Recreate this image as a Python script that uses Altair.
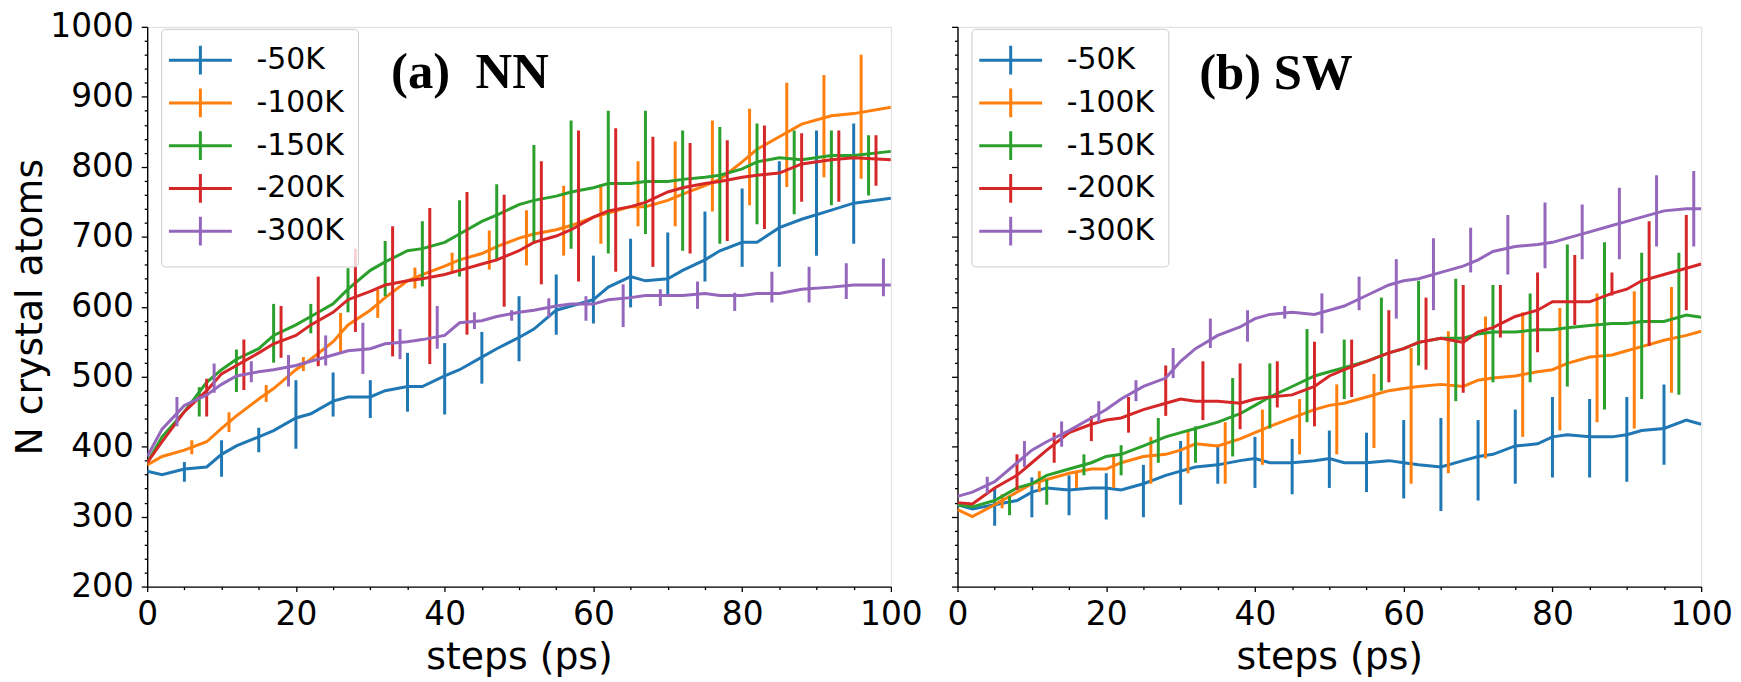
import altair as alt
import pandas as pd

SERIES = ["-50K", "-100K", "-150K", "-200K", "-300K"]
COLORS = ["#1f77b4", "#ff7f0e", "#2ca02c", "#d62728", "#9467bd"]

# ---------------- panel (a) NN : mean curves ----------------
T_A = [0, 2, 5, 8, 10, 12, 15, 17, 20, 22, 25, 27, 30, 32, 35, 37, 40, 42, 45, 47,
       50, 52, 55, 57, 60, 62, 65, 67, 70, 72, 75, 77, 80, 82, 85, 88, 92, 95, 100]
NN_50 = [365, 360, 368, 371, 389, 401, 414, 423, 441, 447, 465, 471, 471, 480, 486, 486, 501, 510, 528, 540,
         556, 568, 595, 601, 610, 628, 643, 637, 640, 652, 667, 680, 692, 692, 713, 725, 738, 748, 755]
NN_100 = [374, 386, 395, 407, 426, 444, 468, 483, 510, 525, 550, 574, 595, 613, 637, 646, 658, 667, 676, 686,
          698, 704, 710, 716, 728, 734, 743, 743, 752, 761, 773, 782, 807, 825, 843, 861, 873, 876, 885]
NN_150 = [377, 414, 450, 492, 510, 525, 540, 559, 574, 586, 604, 625, 652, 664, 680, 683, 692, 704, 722, 731,
          746, 752, 758, 764, 770, 776, 776, 779, 779, 782, 785, 788, 797, 807, 813, 810, 816, 816, 822]
NN_200 = [377, 407, 450, 480, 504, 516, 534, 547, 559, 574, 592, 610, 622, 631, 637, 640, 646, 652, 661, 667,
          680, 692, 701, 710, 728, 737, 743, 749, 764, 770, 776, 779, 785, 788, 791, 804, 810, 813, 810]
NN_300 = [386, 425, 459, 474, 489, 501, 507, 510, 516, 522, 531, 537, 540, 547, 550, 553, 559, 577, 580, 586,
          592, 595, 601, 604, 604, 610, 613, 616, 616, 616, 619, 616, 616, 619, 619, 625, 628, 631, 631]

# ---------------- panel (a) NN : error bars ----------------
NN_50_BT = [5, 10, 15, 20, 25, 30, 35, 40, 45, 50, 55, 60, 65, 70, 75, 80, 85, 90, 95]
NN_50_LO = [350, 357, 392, 397, 443, 441, 450, 446, 490, 522, 560, 576, 599, 615, 636, 657, 657, 673, 690]
NN_50_HI = [378, 409, 427, 495, 506, 495, 534, 548, 564, 615, 646, 673, 697, 706, 736, 769, 808, 852, 862]
NN_100_BT = [6, 11, 16, 21, 26, 31, 36, 41, 46, 51, 56, 61, 66, 71, 76, 81, 86, 91, 96]
NN_100_LO = [389, 421, 464, 508, 533, 584, 626, 647, 653, 659, 673, 690, 715, 715, 736, 745, 771, 785, 783]
NN_100_HI = [409, 449, 488, 528, 591, 624, 656, 677, 709, 738, 773, 775, 808, 836, 866, 883, 920, 931, 960]
NN_150_BT = [7, 12, 17, 22, 27, 32, 37, 42, 47, 52, 57, 62, 67, 72, 77, 82, 87, 92, 97]
NN_150_LO = [443, 478, 520, 562, 592, 615, 629, 643, 665, 690, 683, 676, 704, 680, 690, 718, 732, 745, 759]
NN_150_HI = [485, 539, 604, 604, 655, 694, 722, 752, 775, 831, 866, 880, 880, 852, 857, 862, 852, 852, 845]
NN_200_BT = [8, 13, 18, 23, 28, 33, 38, 43, 48, 53, 58, 63, 68, 73, 78, 83, 88, 93, 98]
NN_200_LO = [443, 481, 527, 515, 564, 529, 518, 560, 600, 632, 636, 650, 657, 676, 694, 711, 750, 750, 773]
NN_200_HI = [497, 553, 601, 643, 683, 715, 741, 764, 760, 808, 852, 855, 843, 834, 838, 859, 848, 852, 845]
NN_300_BT = [4, 9, 14, 19, 24, 29, 34, 39, 44, 49, 54, 59, 64, 69, 74, 79, 84, 89, 94, 99]
NN_300_LO = [429, 477, 492, 486, 516, 504, 525, 540, 568, 580, 585, 580, 571, 601, 597, 594, 606, 606, 611, 615]
NN_300_HI = [471, 519, 522, 531, 559, 577, 568, 601, 592, 595, 612, 615, 632, 625, 636, 620, 650, 657, 662, 669]

# ---------------- panel (b) SW : mean curves ----------------
T_B = [0, 2, 5, 8, 10, 12, 15, 18, 20, 22, 25, 28, 30, 32, 35, 38, 40, 42, 45, 48,
       50, 52, 55, 58, 60, 62, 65, 68, 70, 72, 75, 78, 80, 82, 85, 88, 90, 92, 95, 98, 100]
SW_50 = [317, 311, 317, 323, 335, 341, 338, 341, 341, 338, 347, 359, 365, 371, 374, 380, 383, 377, 377, 380,
         383, 377, 377, 380, 377, 374, 371, 380, 386, 389, 401, 404, 414, 417, 414, 414, 417, 423, 426, 438, 432]
SW_100 = [310, 300, 317, 335, 347, 353, 362, 368, 368, 377, 386, 389, 395, 404, 401, 411, 420, 429, 441, 453,
          459, 462, 471, 480, 483, 486, 489, 486, 495, 498, 501, 507, 510, 519, 528, 531, 537, 543, 552, 559, 565]
SW_150 = [317, 314, 323, 341, 347, 359, 368, 377, 386, 389, 401, 414, 420, 426, 435, 447, 459, 471, 486, 501,
          507, 513, 522, 534, 540, 549, 555, 555, 561, 564, 564, 567, 567, 570, 573, 576, 576, 579, 579, 588, 585]
SW_200 = [320, 318, 341, 359, 377, 395, 420, 432, 438, 441, 453, 462, 468, 465, 465, 462, 468, 471, 474, 486,
          501, 510, 522, 534, 540, 549, 555, 549, 564, 570, 586, 595, 607, 607, 607, 619, 625, 637, 646, 655, 661]
SW_300 = [329, 335, 350, 377, 395, 407, 423, 441, 453, 468, 486, 498, 522, 540, 559, 571, 583, 589, 592, 589,
          595, 601, 616, 631, 637, 640, 649, 658, 667, 679, 686, 689, 692, 698, 707, 716, 722, 728, 737, 740, 740]

# ---------------- panel (b) SW : error bars ----------------
SW_50_BT = [5, 10, 15, 20, 25, 30, 35, 40, 45, 50, 55, 60, 65, 70, 75, 80, 85, 90, 95]
SW_50_LO = [287, 299, 302, 296, 299, 317, 347, 341, 332, 341, 335, 326, 308, 323, 347, 356, 356, 350, 374]
SW_50_HI = [341, 356, 359, 362, 374, 408, 402, 414, 411, 423, 420, 438, 441, 438, 453, 471, 468, 471, 489]
SW_100_BT = [6, 11, 16, 21, 26, 31, 36, 41, 46, 51, 56, 61, 66, 71, 76, 81, 86, 91, 96]
SW_100_LO = [312, 335, 341, 341, 347, 362, 347, 374, 389, 389, 398, 347, 362, 383, 414, 423, 435, 426, 477]
SW_100_HI = [332, 365, 365, 389, 414, 423, 435, 453, 468, 489, 504, 541, 565, 586, 592, 598, 619, 622, 628]
SW_150_BT = [7, 12, 17, 22, 27, 32, 37, 42, 47, 52, 57, 62, 67, 72, 77, 82, 87, 92, 97]
SW_150_LO = [302, 317, 359, 359, 377, 377, 386, 426, 435, 468, 480, 516, 465, 492, 492, 486, 453, 468, 474]
SW_150_HI = [329, 353, 389, 402, 441, 429, 498, 519, 568, 553, 613, 637, 640, 631, 619, 689, 692, 677, 677]
SW_200_BT = [8, 13, 18, 23, 28, 33, 38, 43, 48, 53, 58, 63, 68, 73, 78, 83, 88, 93, 98]
SW_200_LO = [338, 377, 408, 420, 444, 438, 425, 456, 429, 471, 492, 510, 477, 556, 535, 574, 616, 544, 595]
SW_200_HI = [389, 420, 444, 471, 516, 522, 519, 522, 550, 553, 595, 613, 631, 631, 649, 674, 649, 722, 731]
SW_300_BT = [4, 9, 14, 19, 24, 29, 34, 39, 44, 49, 54, 59, 64, 69, 74, 79, 84, 89, 94, 99]
SW_300_LO = [333, 371, 400, 435, 465, 498, 541, 550, 583, 562, 595, 583, 595, 649, 646, 655, 668, 668, 686, 686]
SW_300_HI = [357, 408, 436, 465, 495, 541, 583, 595, 601, 619, 643, 668, 698, 713, 731, 749, 746, 770, 788, 794]

PANEL_LABELS = ["(a)\u00a0 NN", "(b) SW"]
LABEL_T = [32.8, 32.5]
LABEL_V = [912, 911]

X_TICKS = list(range(0, 101, 5))
Y_TICKS = list(range(200, 1001, 20))

W, H = 748, 563
FONT = "DejaVu Sans"


def line_frame(t, series_values):
    rows = []
    for s, vals in zip(SERIES, series_values):
        for ti, vi in zip(t, vals):
            rows.append({"t": ti, "v": vi, "series": s})
    return pd.DataFrame(rows)


def bar_frame(bars):
    rows = []
    for s, (bt, lo, hi) in zip(SERIES, bars):
        for ti, l, h in zip(bt, lo, hi):
            rows.append({"t": ti, "lo": l, "hi": h, "series": s})
    return pd.DataFrame(rows)


def make_panel(ldf, bdf, label, lt, lv, first):
    xscale = alt.Scale(domain=[0, 100], nice=False, zero=False)
    yscale = alt.Scale(domain=[200, 1000], nice=False, zero=False)
    xaxis = alt.Axis(
        values=X_TICKS, format="d",
        labelExpr="datum.value % 20 === 0 ? datum.label : ''",
        tickSize={"condition": {"test": "datum.value % 20 === 0", "value": 5}, "value": 3},
        labelOverlap=False, labelFlush=False, grid=False,
        labelFont=FONT, labelFontSize=33, labelColor="black", labelPadding=7,
        titleFont=FONT, titleFontSize=38, titleFontWeight="normal", titleColor="black", titlePadding=7,
        tickColor="black", tickWidth=1.3, domainColor="black", domainWidth=1.4,
    )
    if first:
        yaxis = alt.Axis(
            values=Y_TICKS, format="d",
            labelExpr="datum.value % 100 === 0 ? datum.label : ''",
            tickSize={"condition": {"test": "datum.value % 100 === 0", "value": 6}, "value": 3},
            labelOverlap=False, grid=False,
            labelFont=FONT, labelFontSize=33, labelColor="black", labelPadding=8,
            titleFont=FONT, titleFontSize=38, titleFontWeight="normal", titleColor="black", titlePadding=0,
            tickColor="black", tickWidth=1.3, domainColor="black", domainWidth=1.4,
        )
        ytitle = "N crystal atoms"
    else:
        yaxis = alt.Axis(
            values=Y_TICKS, labels=False,
            tickSize={"condition": {"test": "datum.value % 100 === 0", "value": 6}, "value": 3},
            grid=False, tickColor="black", tickWidth=1.3, domainColor="black", domainWidth=1.4,
        )
        ytitle = None

    legend = alt.Legend(
        title=None, orient="none", legendX=14, legendY=2,
        symbolType="M-2,0H2M0,-0.92V0.92", symbolSize=1000, symbolStrokeWidth=3, symbolOffset=8,
        labelFont=FONT, labelFontSize=30, labelColor="black", labelOffset=39,
        rowPadding=0, padding=14, strokeColor="#cccccc", fillColor="rgba(255,255,255,0.8)",
        cornerRadius=4,
    )
    color = alt.Color("series:N", scale=alt.Scale(domain=SERIES, range=COLORS), legend=legend)
    x = alt.X("t:Q", scale=xscale, axis=xaxis, title="steps (ps)")

    layers = []
    for s in SERIES:
        layers.append(
            alt.Chart(ldf).transform_filter(alt.datum.series == s)
            .mark_line(strokeWidth=3, clip=True)
            .encode(x=x, y=alt.Y("v:Q", scale=yscale, axis=yaxis, title=ytitle), color=color,
                    order=alt.Order("t:Q"))
        )
        layers.append(
            alt.Chart(bdf).transform_filter(alt.datum.series == s)
            .mark_rule(strokeWidth=3, clip=True)
            .encode(x=x, y=alt.Y("lo:Q", scale=yscale, axis=yaxis, title=ytitle), y2="hi:Q", color=color)
        )
    tdf = pd.DataFrame({"t": [lt], "v": [lv], "label": [label]})
    layers.append(
        alt.Chart(tdf).mark_text(align="left", baseline="alphabetic", font="Liberation Serif",
                                 fontWeight="bold", fontSize=51, color="black")
        .encode(x=x, y=alt.Y("v:Q", scale=yscale, axis=yaxis, title=ytitle), text="label:N")
    )
    return alt.layer(*layers).properties(width=W, height=H)


lines_a = line_frame(T_A, [NN_50, NN_100, NN_150, NN_200, NN_300])
bars_a = bar_frame([(NN_50_BT, NN_50_LO, NN_50_HI), (NN_100_BT, NN_100_LO, NN_100_HI),
                    (NN_150_BT, NN_150_LO, NN_150_HI), (NN_200_BT, NN_200_LO, NN_200_HI),
                    (NN_300_BT, NN_300_LO, NN_300_HI)])
lines_b = line_frame(T_B, [SW_50, SW_100, SW_150, SW_200, SW_300])
bars_b = bar_frame([(SW_50_BT, SW_50_LO, SW_50_HI), (SW_100_BT, SW_100_LO, SW_100_HI),
                    (SW_150_BT, SW_150_LO, SW_150_HI), (SW_200_BT, SW_200_LO, SW_200_HI),
                    (SW_300_BT, SW_300_LO, SW_300_HI)])

pa = make_panel(lines_a, bars_a, PANEL_LABELS[0], LABEL_T[0], LABEL_V[0], True)
pb = make_panel(lines_b, bars_b, PANEL_LABELS[1], LABEL_T[1], LABEL_V[1], False)

chart = (
    alt.hconcat(pa, pb, spacing=67, bounds="flush")
    .resolve_scale(color="independent")
    .resolve_legend(color="independent")
    .properties(padding={"left": 3, "top": 0, "right": 0, "bottom": 0})
    .configure_view(stroke="black", strokeWidth=1.4)
    .configure(font=FONT)
)

chart.save("out.html", embed_options={"renderer": "svg", "actions": False})
